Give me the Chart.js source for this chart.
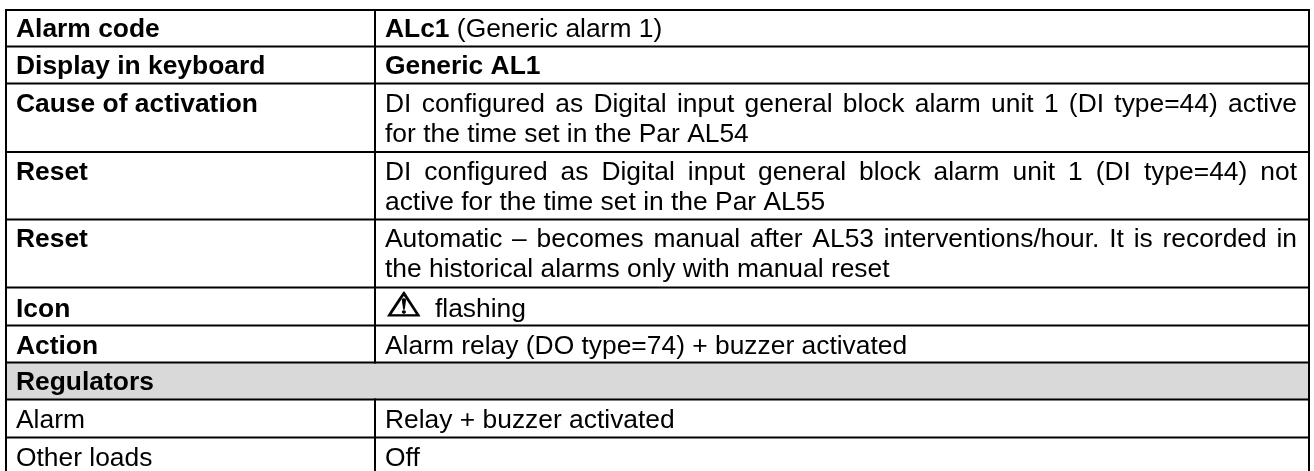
<!DOCTYPE html>
<html>
<head>
<meta charset="utf-8">
<style>
  html, body { margin: 0; padding: 0; background: #fff; }
  #chart { display: block; }
</style>
<script src="https://cdn.jsdelivr.net/npm/chart.js@4/dist/chart.umd.min.js"></script>
</head>
<body>
<canvas id="chart" width="1314" height="471"></canvas>
<script>
const rowLabels = [
  "Alarm code", "Display in keyboard", "Cause of activation", "Reset", "Reset",
  "Icon", "Action", "Regulators", "Alarm", "Other loads",
];
const labelIsBold = [true, true, true, true, true, true, true, true, false, false];
const rowTexts = [
  ["**ALc1** (Generic alarm 1)"],
  ["**Generic AL1**"],
  ["DI configured as Digital input general block alarm unit 1 (DI type=44) active", "for the time set in the Par AL54"],
  ["DI configured as Digital input general block alarm unit 1 (DI type=44) not", "active for the time set in the Par AL55"],
  ["Automatic – becomes manual after AL53 interventions/hour. It is recorded in", "the historical alarms only with manual reset"],
  ["flashing"],
  ["Alarm relay (DO type=74) + buzzer activated"],
  [],
  ["Relay + buzzer activated"],
  ["Off"],
];
const iconGlyph = "\u26A0";
const iconRow = 5;
const bandRow = 7;

// table rules, in the scale's own units
const rowEdges = [10, 46.5, 83.5, 152, 219.5, 287.5, 325.5, 362.5, 399.5, 437.5, 473];
const columnEdges = [6, 375, 1309];

const textFont = '"Liberation Sans", Arial, sans-serif';
const textSize = 26.4;
const lineGap = 30;
const baselineOffset = [26.7, 27.5, 28, 28, 27.7, 29, 28, 27.7, 28.8, 28];
const textPad = 10;
const rightTextEdge = 1297;

const ruleLine = {
  type: "scatter",
  showLine: true,
  borderColor: "#000",
  borderWidth: 2,
  borderCapStyle: "square",
  pointRadius: 0,
  fill: false,
};

function horizontalRules() {
  const pts = [];
  rowEdges.forEach((y) => {
    pts.push({ x: columnEdges[0], y }, { x: columnEdges[2], y }, { x: NaN, y: NaN });
  });
  return pts;
}

function verticalRules() {
  const top = rowEdges[0];
  const bottom = rowEdges[rowEdges.length - 1];
  return [
    { x: columnEdges[0], y: top }, { x: columnEdges[0], y: bottom }, { x: NaN, y: NaN },
    { x: columnEdges[2], y: top }, { x: columnEdges[2], y: bottom }, { x: NaN, y: NaN },
    { x: columnEdges[1], y: top }, { x: columnEdges[1], y: rowEdges[bandRow] }, { x: NaN, y: NaN },
    { x: columnEdges[1], y: rowEdges[bandRow + 1] }, { x: columnEdges[1], y: bottom },
  ];
}

function fontFor(bold) {
  return `${bold ? "bold " : ""}${textSize}px ${textFont}`;
}

// "**x** y" -> [{text, bold}, ...]
function splitRuns(line) {
  return line.split("**").map((text, i) => ({ text, bold: i % 2 === 1 })).filter((r) => r.text);
}

const tableText = {
  id: "tableText",
  afterDatasetsDraw(chart) {
    const { ctx, scales } = chart;
    const labelX = scales.x.getPixelForValue(columnEdges[0] + textPad);
    const valueX = scales.x.getPixelForValue(columnEdges[1] + textPad);
    const rightX = scales.x.getPixelForValue(rightTextEdge);
    ctx.save();
    ctx.fillStyle = "#000";
    ctx.strokeStyle = "#000";
    ctx.textBaseline = "alphabetic";
    rowLabels.forEach((label, r) => {
      const y = scales.y.getPixelForValue(rowEdges[r] + baselineOffset[r]);
      ctx.font = fontFor(labelIsBold[r]);
      ctx.fillText(label, labelX, y);
      rowTexts[r].forEach((line, i) => {
        const lineY = y + i * lineGap;
        let x = r === iconRow ? valueX + 50 : valueX;
        const words = line.split(" ").length - 1;
        const justify = rowTexts[r].length > 1 && i === 0;
        splitRuns(line).forEach((run) => {
          ctx.font = fontFor(run.bold);
          ctx.wordSpacing = justify
            ? (rightX - valueX - ctx.measureText(line).width) / words + "px"
            : "0px";
          ctx.fillText(run.text, x, lineY);
          x += ctx.measureText(run.text).width;
        });
        ctx.wordSpacing = "0px";
      });
    });
    // warning icon: the glyph is thinner and narrower than the one in the picture
    ctx.font = `33px "DejaVu Sans"`;
    ctx.translate(valueX + 1, scales.y.getPixelForValue(rowEdges[iconRow] + 28));
    ctx.scale(1.2, 1);
    ctx.lineWidth = 1;
    ctx.fillText(iconGlyph, 0, 0);
    ctx.strokeText(iconGlyph, 0, 0);
    ctx.restore();
  },
};

new Chart(document.getElementById("chart").getContext("2d"), {
  type: "scatter",
  plugins: [tableText],
  data: {
    datasets: [
      { ...ruleLine, data: horizontalRules() },
      { ...ruleLine, data: verticalRules() },
      {
        type: "scatter",
        showLine: true,
        data: [
          { x: columnEdges[0], y: rowEdges[bandRow] },
          { x: columnEdges[2], y: rowEdges[bandRow] },
        ],
        borderWidth: 0,
        pointRadius: 0,
        backgroundColor: "#d9d9d9",
        fill: { value: rowEdges[bandRow + 1] },
      },
    ],
  },
  options: {
    responsive: false,
    animation: false,
    events: [],
    layout: { padding: 0 },
    plugins: { legend: { display: false }, tooltip: { enabled: false }, title: { display: false } },
    scales: {
      x: { type: "linear", display: false, min: 0, max: 1314 },
      y: { type: "linear", display: false, min: 0, max: 471, reverse: true },
    },
  },
});
</script>
</body>
</html>
